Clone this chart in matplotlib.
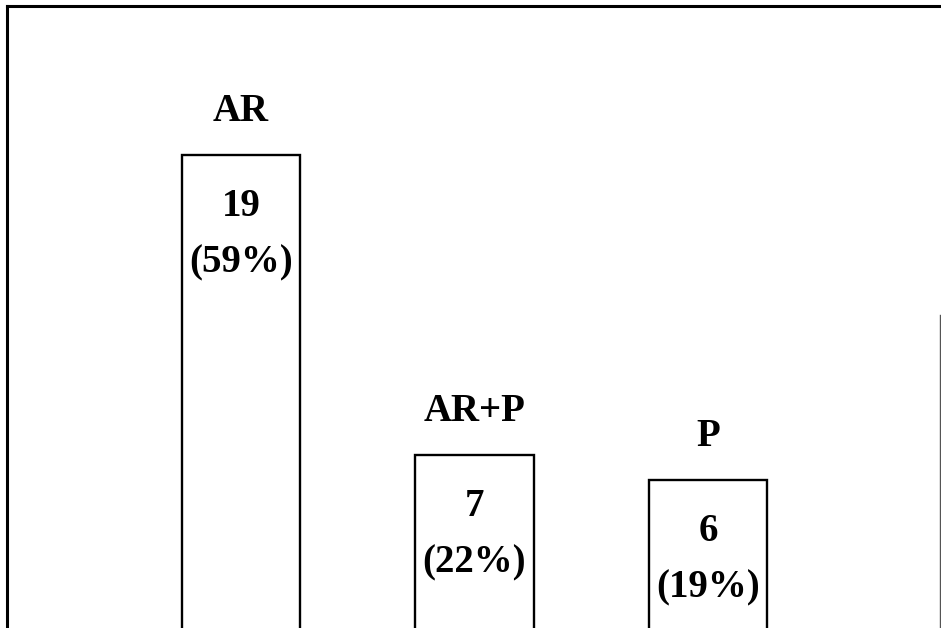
import matplotlib
matplotlib.use("Agg")
import matplotlib.pyplot as plt
from matplotlib.lines import Line2D

# === DATA ===
groups = ["AR", "AR+P", "P"]
counts = [19, 7, 6]
percents = [59, 22, 19]

plt.rcParams["font.family"] = ["Liberation Serif", "DejaVu Serif"]

fig = plt.figure(figsize=(9.41, 6.28), dpi=100)
ax = fig.add_axes([0, 0, 1, 1])

# bars sit 233.5 px apart, first centred at x=241 px, baseline just under the bottom edge
ax.set_xlim(-241 / 233.5, (941 - 241) / 233.5)
ax.set_ylim(2 / 25, 630 / 25)

x = list(range(len(groups)))
ax.bar(x, counts, width=118 / 233.5, color="white", edgecolor="black", linewidth=1.7)

fs = 28
for xi, name, n, pct in zip(x, groups, counts, percents):
    ax.annotate(name, (xi, n), xytext=(0, 31), textcoords="offset points",
                ha="center", va="center", fontsize=fs, fontweight="bold")
    ax.annotate(str(n), (xi, n), xytext=(0, -37), textcoords="offset points",
                ha="center", va="center", fontsize=fs, fontweight="bold")
    ax.annotate(f"({pct}%)", (xi, n), xytext=(0, -78), textcoords="offset points",
                ha="center", va="center", fontsize=fs, fontweight="bold")

ax.axis("off")

# outer frame: left and top edges, plus the partial right edge
W, H = 941, 628
fig.add_artist(Line2D([6.5 / W, 6.5 / W], [0, 1 - 5.5 / H], color="black", lw=2.2))
fig.add_artist(Line2D([6.5 / W, 1], [1 - 5.5 / H, 1 - 5.5 / H], color="black", lw=2.2))
fig.add_artist(Line2D([940 / W, 940 / W], [0, 1 - 315 / H], color="#555555", lw=1.0))

fig.savefig("out.png", dpi=100)
